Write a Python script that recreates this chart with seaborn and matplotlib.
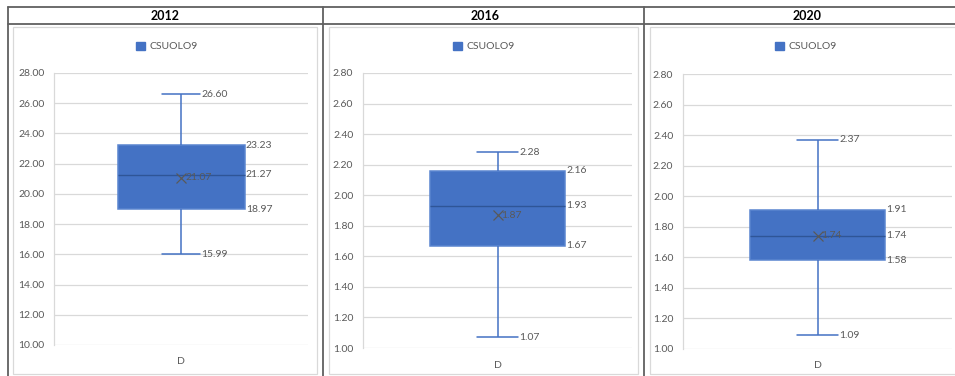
import numpy as np
import pandas as pd
import matplotlib
matplotlib.use("Agg")
import matplotlib.pyplot as plt
from matplotlib.lines import Line2D
from matplotlib.patches import Rectangle, Patch
import seaborn as sns

sns.set_theme(style="white")
plt.rcParams["font.family"] = ["Lato", "DejaVu Sans"]

# Five-number summaries and means per year
years = ["2012", "2016", "2020"]
series_name = "CSUOLO9"
category = "D"
minimum = [15.99, 1.07, 1.09]
q1 = [18.97, 1.67, 1.58]
median = [21.27, 1.93, 1.74]
q3 = [23.23, 2.16, 1.91]
maximum = [26.60, 2.28, 2.37]
mean = [21.07, 1.87, 1.74]

# y-axis ranges and tick steps per panel
y_min = [10.0, 1.0, 1.0]
y_max = [28.0, 2.8, 2.8]
y_step = [2.0, 0.2, 0.2]

W, H = 955, 376
fig = plt.figure(figsize=(W / 100, H / 100), dpi=100)
fig.patch.set_facecolor("white")

BLUE = "#4472C4"
DARK_BLUE = "#2F5597"
GRID = "#D9D9D9"
TEXT = "#595959"


def fx(px):
    return px / W


def fy(py):
    return 1 - py / H


# table frame: top rule, header rule and column separators
table_color = "#606060"
for y in (7, 24):
    fig.add_artist(Line2D([fx(8), fx(W)], [fy(y), fy(y)], color=table_color,
                          lw=1.3, transform=fig.transFigure))
for x in (8, 323, 644):
    fig.add_artist(Line2D([fx(x), fx(x)], [fy(7), fy(H)], color=table_color,
                          lw=1.3, transform=fig.transFigure))

# header cells
header_x = [165, 485, 807]
for hx, yr in zip(header_x, years):
    fig.text(fx(hx), fy(15.5), yr, ha="center", va="center",
             fontsize=9, fontweight="bold", color="black")

# chart-area borders
chart_boxes = [(13, 317), (329, 638), (650, 975)]
for (x0, x1) in chart_boxes:
    fig.add_artist(Rectangle((fx(x0), fy(374)), fx(x1) - fx(x0), fy(27) - fy(374),
                             transform=fig.transFigure, fill=False,
                             edgecolor=GRID, lw=0.9))

# plot areas: left, right, top, bottom in pixels
plot_boxes = [(54, 308, 73, 345), (363, 632, 73, 348), (683, 952, 74, 349)]
legend_x = [167, 484, 806]

for i, yr in enumerate(years):
    l, r, t, b = plot_boxes[i]
    ax = fig.add_axes([fx(l), fy(b), fx(r) - fx(l), fy(t) - fy(b)])
    df = pd.DataFrame({
        "cat": [category] * 5,
        "value": [minimum[i], q1[i], median[i], q3[i], maximum[i]],
    })
    sns.boxplot(data=df, x="cat", y="value", ax=ax, whis=(0, 100),
                width=0.5, color=BLUE, saturation=1, linecolor=BLUE,
                linewidth=1.1, capwidths=0.15,
                medianprops={"color": DARK_BLUE, "linewidth": 1.0},
                boxprops={"facecolor": BLUE, "edgecolor": "#5A85CF"})
    # mean marker
    ax.plot([0], [mean[i]], marker="x", color="#595959", markersize=6.5,
            markeredgewidth=0.9, linestyle="none", zorder=5)

    ax.set_xlim(-0.5, 0.5)
    ax.set_ylim(y_min[i], y_max[i])
    ticks = np.round(np.arange(y_min[i], y_max[i] + y_step[i] / 2, y_step[i]), 2)
    ax.set_yticks(ticks)
    ax.set_yticklabels([f"{v:.2f}" for v in ticks])
    ax.set_xticks([0])
    ax.set_xticklabels([category])
    ax.set_xlabel("")
    ax.set_ylabel("")
    ax.tick_params(axis="both", length=0, labelsize=7.5, colors=TEXT)
    ax.tick_params(axis="y", pad=7)
    ax.tick_params(axis="x", pad=9)
    ax.yaxis.grid(True, color=GRID, lw=0.9)
    ax.set_axisbelow(True)
    for s in ("top", "right", "bottom"):
        ax.spines[s].set_visible(False)
    ax.spines["left"].set_color(GRID)
    ax.spines["left"].set_linewidth(0.9)

    # data labels
    lab = dict(fontsize=7.5, color=TEXT, va="center", ha="left",
               textcoords="offset points")
    ax.annotate(f"{maximum[i]:.2f}", (0.075, maximum[i]), xytext=(1, 0), **lab)
    ax.annotate(f"{minimum[i]:.2f}", (0.075, minimum[i]), xytext=(1, 0), **lab)
    ax.annotate(f"{q3[i]:.2f}", (0.25, q3[i]), xytext=(1, 0), **lab)
    ax.annotate(f"{median[i]:.2f}", (0.25, median[i]), xytext=(1, 0), **lab)
    ax.annotate(f"{q1[i]:.2f}", (0.25, q1[i]), xytext=(1, 0), **lab)
    ax.annotate(f"{mean[i]:.2f}", (0, mean[i]), xytext=(3, 0), **lab)

    # legend centred above the plot
    fig.legend(handles=[Patch(facecolor=BLUE, edgecolor=BLUE, label=series_name)],
               loc="center", bbox_to_anchor=(fx(legend_x[i]), fy(46.5)),
               bbox_transform=fig.transFigure, frameon=False, fontsize=7.5,
               labelcolor=TEXT, handlelength=0.9, handleheight=0.9,
               handletextpad=0.4, borderpad=0)

fig.savefig("out.png", dpi=100, facecolor="white")
